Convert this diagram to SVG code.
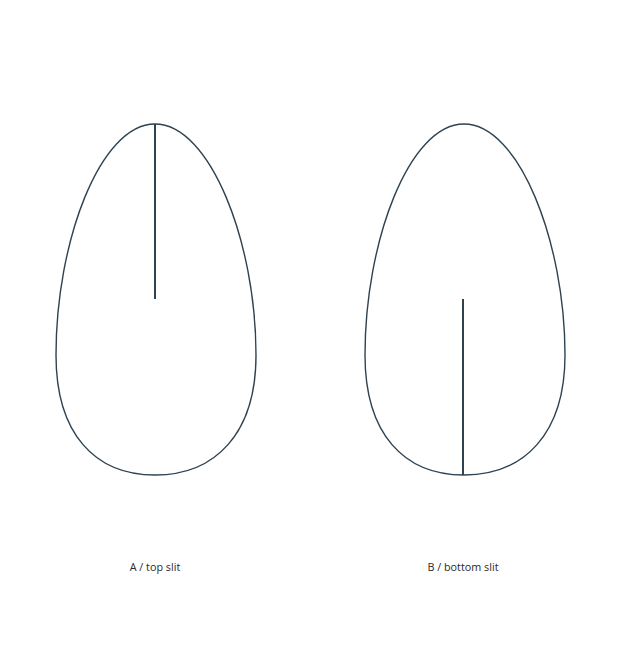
<svg xmlns="http://www.w3.org/2000/svg" width="637" height="660" viewBox="0 0 637 660">
<style>
.egg{fill:none;stroke:#2e4250;stroke-width:1.4}
.slit{stroke:#2e4250;stroke-width:2;fill:none}
.lbl{font-family:"Open Sans","Noto Sans",sans-serif;font-size:10.8px;fill:#2a2a2a;text-anchor:middle}
</style>
<rect width="637" height="660" fill="#fff"/>
<defs>
<path id="eggp" d="M0,0 C-55,0 -99,118 -99,231 C-99,310 -60,351 0,351 C60,351 101,310 101,231 C101,118 55,0 0,0 Z"/>
</defs>
<g id="nodeA">
<use href="#eggp" class="egg" transform="translate(155,124)"/>
<text class="lbl" x="155" y="571">A / top slit</text>
</g>
<g id="nodeB">
<use href="#eggp" class="egg" transform="translate(464,124)"/>
<text class="lbl" x="463" y="571">B / bottom slit</text>
</g>
<g id="connectors">
<line class="slit" x1="155" y1="124" x2="155" y2="299"/>
<line class="slit" x1="463" y1="299" x2="463" y2="475"/>
</g>
</svg>
